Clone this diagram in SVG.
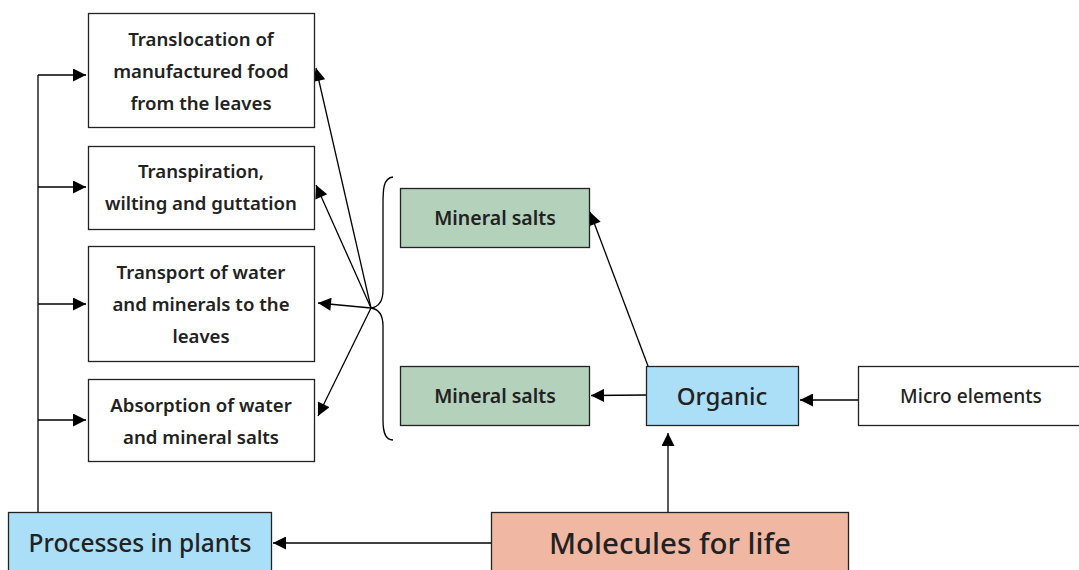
<svg xmlns="http://www.w3.org/2000/svg" width="1079" height="570" viewBox="0 0 1079 570">
<defs>
<marker id="ah" viewBox="0 0 10 10" refX="10" refY="5" markerWidth="19" markerHeight="13" markerUnits="userSpaceOnUse" orient="auto">
<path d="M0,0 L10,5 L0,10 Z" fill="#000"/>
</marker>
<style>
.box{stroke:#222;stroke-width:1.3;}
.w{fill:#fff;}
.g{fill:#b3d1bb;}
.b{fill:#aadff7;}
.p{fill:#f0b8a3;}
text{font-family:"Noto Sans","Open Sans",sans-serif;fill:#222;text-anchor:middle;}
.t{font-size:18.6px;font-weight:600;}
.c{stroke:#000;stroke-width:1.3;fill:none;}
</style>
</defs>
<g id="connectors">
<path class="c" d="M38,512 V75"/>
<path class="c" d="M38,75 H86" marker-end="url(#ah)"/>
<path class="c" d="M38,187 H86" marker-end="url(#ah)"/>
<path class="c" d="M38,304 H86" marker-end="url(#ah)"/>
<path class="c" d="M38,420 H86" marker-end="url(#ah)"/>
<path class="c" d="M371,308 L316,68" marker-end="url(#ah)"/>
<path class="c" d="M371,308 L316,185" marker-end="url(#ah)"/>
<path class="c" d="M371,308 L318,303" marker-end="url(#ah)"/>
<path class="c" d="M371,308 L318,416" marker-end="url(#ah)"/>
<path class="c" d="M393,177 C383,178 383,190 383,205 L383,290 C383,302 378,307 371,308 C378,309 383,314 383,326 L383,420 C383,432 385,440 393,440"/>
<path class="c" d="M648,366 L590,212" marker-end="url(#ah)"/>
<path class="c" d="M646,395 L591,395.5" marker-end="url(#ah)"/>
<path class="c" d="M858,400 H800" marker-end="url(#ah)"/>
<path class="c" d="M668,512 V433" marker-end="url(#ah)"/>
<path class="c" d="M491,543 H273" marker-end="url(#ah)"/>
</g>
<g id="n-translocation">
<rect class="box w" x="88.5" y="13.5" width="226" height="114"/>
<text class="t" x="201" y="46">Translocation of</text>
<text class="t" x="201" y="78">manufactured food</text>
<text class="t" x="201" y="110">from the leaves</text>
</g>
<g id="n-transpiration">
<rect class="box w" x="88.5" y="146.5" width="226" height="83"/>
<text class="t" x="201" y="178">Transpiration,</text>
<text class="t" x="201" y="210">wilting and guttation</text>
</g>
<g id="n-transport">
<rect class="box w" x="88.5" y="246.5" width="226" height="115"/>
<text class="t" x="201" y="279">Transport of water</text>
<text class="t" x="201" y="311">and minerals to the</text>
<text class="t" x="201" y="343">leaves</text>
</g>
<g id="n-absorption">
<rect class="box w" x="88.5" y="379.5" width="226" height="82"/>
<text class="t" x="201" y="412">Absorption of water</text>
<text class="t" x="201" y="444">and mineral salts</text>
</g>
<g id="n-processes">
<rect class="box b" x="8.5" y="512.5" width="263" height="70"/>
<text x="140" y="552" style="font-size:24.5px;font-weight:500">Processes in plants</text>
</g>
<g id="n-molecules">
<rect class="box p" x="491.5" y="512.5" width="357" height="70"/>
<text x="670" y="554" style="font-size:29.5px;font-weight:500">Molecules for life</text>
</g>
<g id="n-minerals-top">
<rect class="box g" x="400.5" y="188.5" width="189" height="59"/>
<text class="t" x="495" y="225" style="font-size:19.5px">Mineral salts</text>
</g>
<g id="n-minerals-bottom">
<rect class="box g" x="400.5" y="366.5" width="189" height="59"/>
<text class="t" x="495" y="403" style="font-size:19.5px">Mineral salts</text>
</g>
<g id="n-organic">
<rect class="box b" x="646.5" y="366.5" width="152" height="59"/>
<text x="722" y="405" style="font-size:24px;font-weight:500">Organic</text>
</g>
<g id="n-micro">
<rect class="box w" x="858.5" y="366.5" width="230" height="59"/>
<text x="971" y="403" style="font-size:19.2px;font-weight:500">Micro elements</text>
</g>
</svg>
